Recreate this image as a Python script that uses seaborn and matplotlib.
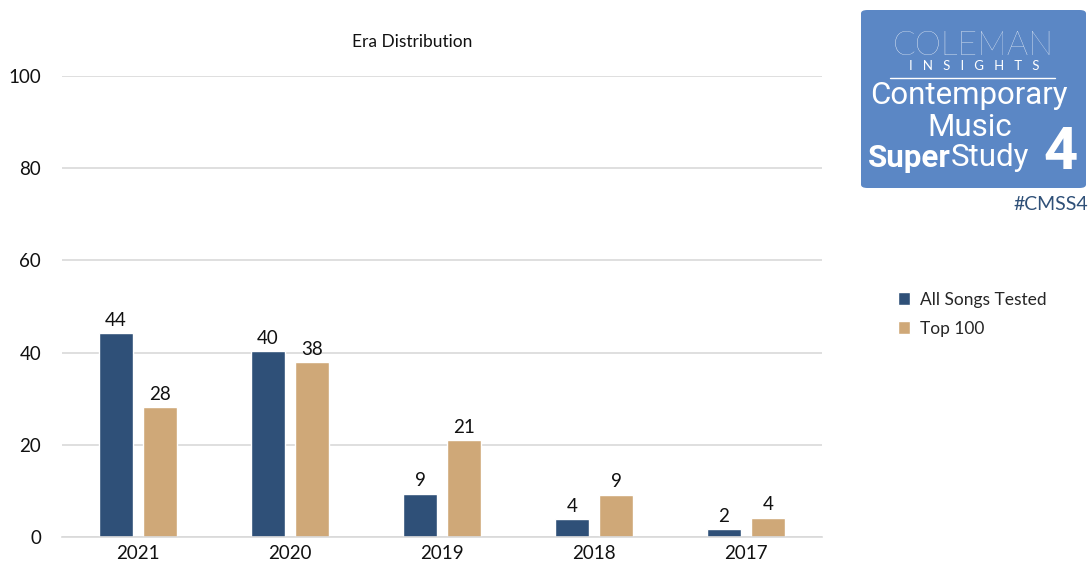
import pandas as pd
import matplotlib.pyplot as plt
import seaborn as sns
from matplotlib.patches import FancyBboxPatch

# Data
years = ['2021', '2020', '2019', '2018', '2017']
all_songs = [44.3, 40.4, 9.4, 3.9, 1.7]
top_100 = [28.2, 38.0, 21.1, 9.2, 4.2]
series = ['All Songs Tested', 'Top 100']
y_ticks = [0, 20, 40, 60, 80, 100]

navy = '#2F5078'
tan = '#CFA878'
grid_c = '#D9D9D9'

sns.set_theme(style='white')
plt.rcParams['font.family'] = ['Lato', 'DejaVu Sans']

df = pd.DataFrame({
    'year': years * 2,
    'value': all_songs + top_100,
    'series': [series[0]] * len(years) + [series[1]] * len(years),
})

W, H = 1091, 569
fig = plt.figure(figsize=(W / 100, H / 100), dpi=100)
ax = fig.add_axes([62 / W, 1 - 537 / H, 760 / W, (537 - 76) / H])

sns.barplot(data=df, x='year', y='value', hue='series', order=years,
            hue_order=series, palette=[navy, tan], width=0.58, gap=0.23,
            saturation=1, ax=ax, legend=True)

for cont in ax.containers:
    ax.bar_label(cont, labels=[f'{v:.0f}' for v in cont.datavalues],
                 padding=3, fontsize=13.5, color='#111111')

ax.set_ylim(0, 100)
ax.set_xlim(-0.5, 4.5)
ax.set_yticks(y_ticks)
ax.yaxis.grid(True, color=grid_c, linewidth=1.2)
ax.set_axisbelow(True)
for s in ['top', 'right', 'left']:
    ax.spines[s].set_visible(False)
ax.spines['bottom'].set_color(grid_c)
ax.spines['bottom'].set_linewidth(1.2)
ax.tick_params(axis='both', length=0, labelsize=13.5, colors='#111111')
ax.tick_params(axis='y', pad=15)
ax.tick_params(axis='x', pad=6)
ax.set_xlabel('')
ax.set_ylabel('')

fig.text(412 / W, 1 - 42 / H, 'Era Distribution', ha='center', va='center',
         fontsize=12.5, color='#111111')

leg = ax.legend(loc='upper left', bbox_to_anchor=(882 / W, 1 - 276 / H),
                bbox_transform=fig.transFigure, frameon=False, fontsize=12.5,
                handlelength=0.7, handleheight=0.7, handletextpad=0.6,
                labelspacing=0.75)

# logo box
box = FancyBboxPatch((861 / W, 1 - 188 / H), 225 / W, 178 / H,
                     boxstyle='round,pad=0,rounding_size=0.006',
                     transform=fig.transFigure, facecolor='#5B87C5',
                     edgecolor='none')
fig.patches.append(box)
logo_font = ['Roboto', 'DejaVu Sans']
fig.text(973 / W, 1 - 46 / H, 'COLEMAN', ha='center', va='center',
         fontsize=24, color='white', family=['Lato', 'DejaVu Sans'],
         fontweight='light')
fig.text(974 / W, 1 - 66 / H, 'I   N   S   I   G   H   T   S', ha='center',
         va='center', fontsize=9.5, color='white')
fig.add_artist(plt.Line2D([890 / W, 1055 / W], [1 - 78 / H, 1 - 78 / H],
                          transform=fig.transFigure, color='white', linewidth=1))
fig.text(969 / W, 1 - 96 / H, 'Contemporary', ha='center', va='center',
         fontsize=22.5, color='white', family=logo_font)
fig.text(970 / W, 1 - 127 / H, 'Music', ha='center', va='center',
         fontsize=22.5, color='white', family=logo_font)
t1 = fig.text(868 / W, 1 - 158 / H, 'Super', ha='left', va='center',
              fontsize=22.5, color='white', fontweight='bold', family=logo_font)
renderer = fig.canvas.get_renderer()
bb = t1.get_window_extent(renderer)
fig.text(bb.x1 / W, 1 - 158 / H, 'Study', ha='left', va='center',
         fontsize=22.5, color='white', family=logo_font)
fig.text(1061 / W, 1 - 153 / H, '4', ha='center', va='center',
         fontsize=43, color='white', fontweight='bold', family=logo_font)
fig.text(1088 / W, 1 - 204 / H, '#CMSS4', ha='right', va='center',
         fontsize=14, color='#2F5078')

fig.savefig('out.png', dpi=100)
